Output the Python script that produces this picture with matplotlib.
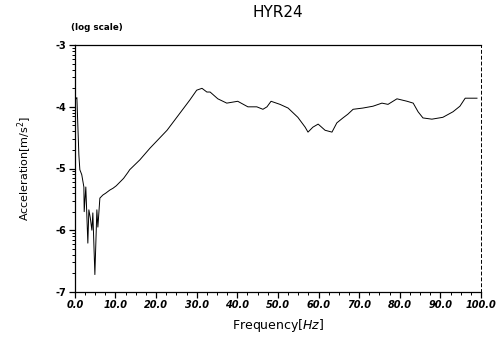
import numpy as np
import matplotlib
matplotlib.use("Agg")
import matplotlib.pyplot as plt
from matplotlib.ticker import FixedLocator, MultipleLocator

# frequency [Hz] and log10 acceleration
freq = [0.25, 0.5, 0.99, 1.23, 1.7, 2.22, 2.3, 2.7, 3.2, 3.45, 3.8, 4.19, 4.43,
        4.93, 5.42, 5.67, 6.16, 6.9, 7.6, 8.6, 9.4, 10.2, 11.1, 12.0, 13.1, 13.5,
        16.0, 18.5, 22.7, 25.9, 28.3, 30.0, 31.3, 32.5, 33.3, 35.2, 37.4, 40.1,
        42.6, 44.8, 46.3, 47.3, 48.3, 50.5, 52.5, 54.9, 56.7, 57.4, 58.6, 59.9,
        61.6, 63.3, 64.5, 66.0, 67.2, 68.5, 70.9, 73.4, 75.6, 77.1, 79.3, 81.8,
        83.3, 84.5, 85.7, 87.9, 90.6, 93.1, 94.8, 96.1, 99.0]
accel = [-3.87, -3.85, -4.78, -5.02, -5.10, -5.30, -5.70, -5.30, -6.21, -5.67,
         -5.80, -6.00, -5.72, -6.72, -5.67, -5.95, -5.48, -5.43, -5.40, -5.35,
         -5.32, -5.28, -5.22, -5.16, -5.06, -5.02, -4.86, -4.67, -4.38, -4.10,
         -3.89, -3.73, -3.70, -3.76, -3.76, -3.87, -3.94, -3.91, -4.00, -4.00,
         -4.04, -4.00, -3.91, -3.96, -4.02, -4.17, -4.33, -4.41, -4.33, -4.28,
         -4.38, -4.41, -4.26, -4.18, -4.12, -4.04, -4.02, -3.99, -3.94, -3.96,
         -3.87, -3.91, -3.94, -4.08, -4.18, -4.20, -4.17, -4.08, -3.99, -3.86,
         -3.86]

xticks = np.arange(0, 101, 10)
xlabels = ["%.1f" % v for v in xticks]
yticks = [-7, -6, -5, -4, -3]

fig = plt.figure(figsize=(4.99, 3.37), dpi=100)
ax = fig.add_axes([0.150, 0.134, 0.814, 0.732])

ax.plot(freq, accel, color="black", lw=0.7)

ax.set_xlim(0, 100)
ax.set_ylim(-7, -3)
ax.set_xticks(xticks)
ax.set_xticklabels(xlabels, fontsize=7, style="italic", fontweight="bold")
ax.xaxis.set_minor_locator(MultipleLocator(2.5))
ax.set_yticks(yticks)
ax.set_yticklabels([str(v) for v in yticks], fontsize=7, fontweight="bold")
minor_y = [d + np.log10(k) for d in range(-7, -3) for k in range(2, 10)]
ax.yaxis.set_minor_locator(FixedLocator(minor_y))
ax.tick_params(which="major", direction="out", length=4, width=0.9, pad=2)
ax.tick_params(which="minor", direction="out", length=2.5, width=0.7)

ax.spines["right"].set_linestyle((0, (3, 3)))
ax.spines["right"].set_linewidth(0.7)
for s in ["left", "bottom", "top"]:
    ax.spines[s].set_linewidth(0.9)

ax.set_xlabel("Frequency$[Hz]$", fontsize=9, labelpad=5)
ax.set_ylabel("Acceleration[m/s$^2$]", fontsize=8, labelpad=16)
ax.set_title("HYR24", fontsize=11, pad=20)
ax.text(-0.01, 1.055, "(log scale)", transform=ax.transAxes, fontsize=6.3,
        fontweight="bold", ha="left", va="bottom")

fig.savefig("out.png", dpi=100)
